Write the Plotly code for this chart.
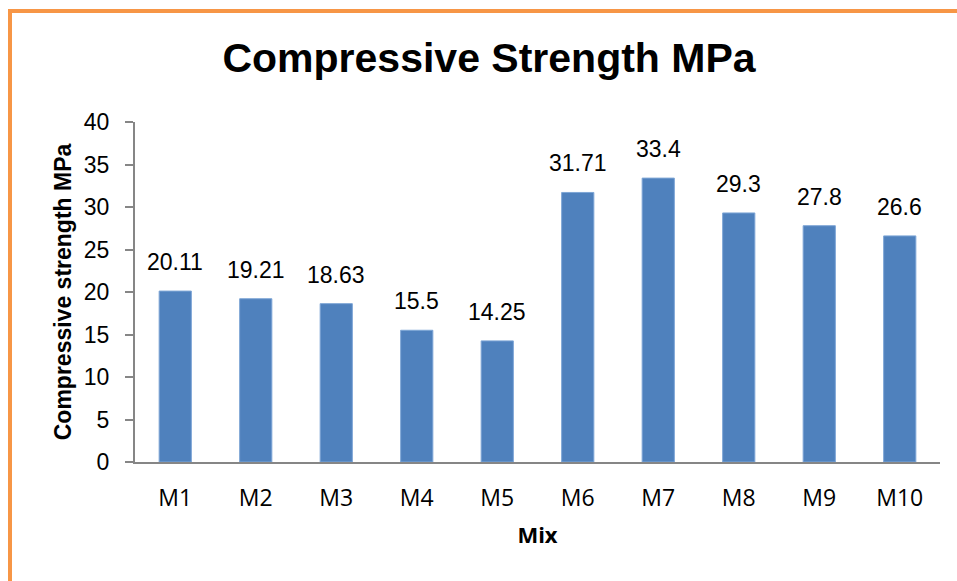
import plotly.graph_objects as go

categories = ["M1", "M2", "M3", "M4", "M5", "M6", "M7", "M8", "M9", "M10"]
strength = [20.11, 19.21, 18.63, 15.5, 14.25, 31.71, 33.4, 29.3, 27.8, 26.6]
value_labels = ["20.11", "19.21", "18.63", "15.5", "14.25", "31.71", "33.4", "29.3", "27.8", "26.6"]
y_ticks = [0, 5, 10, 15, 20, 25, 30, 35, 40]

W, H = 957, 581
L, R, T, B = 135, 17, 122, 119
pw, ph = W - L - R, H - T - B

def px_x(p):
    return (p - L) / pw

def px_y(p):
    return (H - B - p) / ph

fig = go.Figure(go.Bar(
    x=categories, y=strength,
    marker=dict(color="#4F81BD", line=dict(color="#7EA6D6", width=1)),
))

for c, v, t in zip(categories, strength, value_labels):
    fig.add_annotation(x=c, y=v, text=t, showarrow=False, yanchor="bottom", yshift=14,
                       font=dict(family="Liberation Sans, Arial", size=23, color="#000000"))

fig.update_layout(
    width=W, height=H,
    margin=dict(l=L, r=R, t=T, b=B),
    paper_bgcolor="white", plot_bgcolor="white",
    showlegend=False,
    bargap=0.6,
    title=dict(text="<b>Compressive Strength MPa</b>", x=489 / W, xanchor="center",
               y=1 - 58 / H, yanchor="middle", yref="container",
               font=dict(family="Liberation Sans, Arial", size=41, color="#000000")),
    xaxis=dict(
        showline=True, linecolor="#868686", linewidth=2, ticks="",
        tickfont=dict(family="Open Sans, Segoe UI, sans-serif", size=23, color="#000000"),
        ticklabelstandoff=14,
        title=dict(text="<b>Mix</b>", standoff=16,
                   font=dict(family="Open Sans, sans-serif", size=22, color="#000000")),
    ),
    yaxis=dict(
        range=[0, 40], tickvals=y_ticks, showgrid=False, zeroline=False,
        showline=True, linecolor="#868686", linewidth=2,
        ticks="outside", ticklen=8, tickcolor="#868686", tickwidth=2,
        tickfont=dict(family="Liberation Sans, Arial", size=23, color="#000000"),
        ticklabelstandoff=11,
        title=dict(text="<b>Compressive strength MPa</b>", standoff=6,
                   font=dict(family="Liberation Sans, Arial", size=23, color="#000000")),
    ),
    shapes=[
        dict(type="line", xref="paper", yref="paper", x0=px_x(10), x1=px_x(10), y0=px_y(11), y1=px_y(H + 5),
             line=dict(color="#F79646", width=4)),
        dict(type="line", xref="paper", yref="paper", x0=px_x(8), x1=px_x(W + 5), y0=px_y(11), y1=px_y(11),
             line=dict(color="#F79646", width=4)),
    ],
)

fig.write_html("out.html")
